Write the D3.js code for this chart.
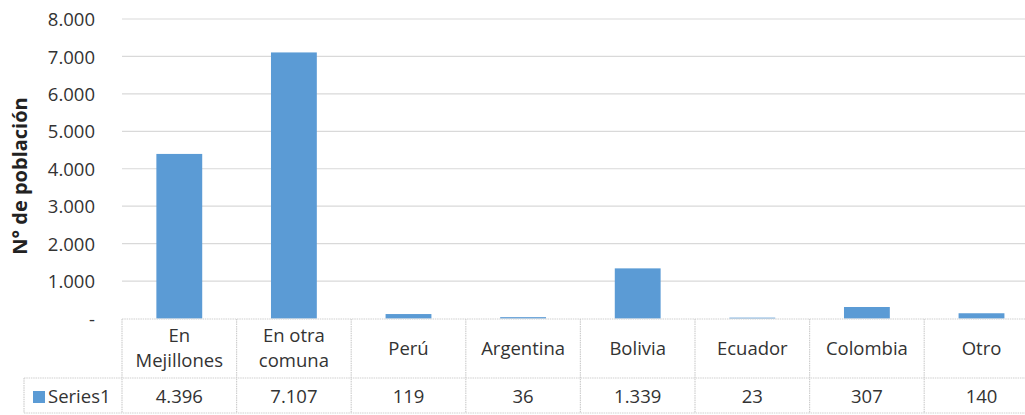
<!DOCTYPE html>
<html><head><meta charset="utf-8">
<script src="https://cdn.jsdelivr.net/npm/d3@7"></script>
<style>html,body{margin:0;padding:0;background:#fff;overflow:hidden}</style>
</head><body>
<svg id="c" width="1025" height="415"></svg>
<script>
const categories = [["En","Mejillones"],["En otra","comuna"],["Perú"],["Argentina"],["Bolivia"],["Ecuador"],["Colombia"],["Otro"]];
const seriesName = "Series1";
const values = [4396, 7107, 119, 36, 1339, 23, 307, 140];
const yTicks = [0,1000,2000,3000,4000,5000,6000,7000,8000];
const yTitle = "N° de población";

const svg = d3.select("#c");
const font = "'Open Sans', sans-serif";
const textColor = "#333333";
const fs = 18.5;
const loc = d3.formatLocale({decimal:",", thousands:".", grouping:[3], currency:["",""]});
const fmt = loc.format(",d");
const keys = categories.map(c => c.join(" "));

const left = 122, colW = 114.6, right = left + colW*8;
const x = d3.scaleBand().domain(keys).range([left, right]).paddingInner(0.6).paddingOuter(0.3);
const xc = d3.scaleBand().domain(keys).range([left, right]).padding(0);
const y = d3.scaleLinear().domain([0, 8000]).range([318.5, 19]);

// gridlines
svg.append("g").selectAll("line").data(yTicks.slice(1)).join("line")
  .attr("x1", left).attr("x2", 1025)
  .attr("y1", d => y(d)).attr("y2", d => y(d))
  .attr("stroke", "#d9d9d9").attr("stroke-width", 1.2);

// y axis labels
const yAxis = d3.axisLeft(y).tickValues(yTicks).tickSize(0).tickPadding(0)
  .tickFormat(d => d === 0 ? "-" : fmt(d));
const ga = svg.append("g").attr("transform", "translate(95,0)").call(yAxis);
ga.select(".domain").remove();
ga.selectAll("text").attr("font-family", font).attr("font-size", fs).attr("fill", textColor).attr("dy", "0.36em");

// bars
svg.append("g").selectAll("rect").data(values).join("rect")
  .attr("x", (d,i) => x(keys[i])).attr("width", x.bandwidth())
  .attr("y", d => y(d)).attr("height", d => y(0) - y(d))
  .attr("fill", "#5b9bd5");

// y title
svg.append("text").attr("transform", "translate(27,176) rotate(-90)")
  .attr("text-anchor", "middle").attr("font-family", font).attr("font-weight", "bold")
  .attr("font-size", 20).attr("fill", "#222").text(yTitle);

// data table
const rowTop = 319, rowMid = 378, rowBot = 413, legLeft = 24;
const tb = svg.append("g").attr("stroke", "#cfcfcf").attr("stroke-width", 1.2).attr("stroke-dasharray", "1.5,0.8");
tb.append("line").attr("x1", left).attr("x2", 1025).attr("y1", rowTop).attr("y2", rowTop);
tb.append("line").attr("x1", legLeft).attr("x2", 1025).attr("y1", rowMid).attr("y2", rowMid);
tb.append("line").attr("x1", legLeft).attr("x2", 1025).attr("y1", rowBot).attr("y2", rowBot);
tb.append("line").attr("x1", legLeft).attr("x2", legLeft).attr("y1", rowMid).attr("y2", rowBot);
tb.selectAll(".v").data(keys).join("line")
  .attr("x1", d => xc(d)).attr("x2", d => xc(d)).attr("y1", rowTop).attr("y2", rowBot);

// category labels
const cl = svg.append("g").selectAll("text").data(categories).join("text")
  .attr("text-anchor", "middle").attr("font-family", font).attr("font-size", fs).attr("fill", textColor)
  .attr("x", (d,i) => xc(keys[i]) + xc.bandwidth()/2)
  .attr("y", d => d.length === 2 ? 342 : 355);
cl.each(function(d){
  const t = d3.select(this);
  d.forEach((line, j) => t.append("tspan").attr("x", t.attr("x")).attr("dy", j === 0 ? 0 : 25).text(line));
});

// values row
svg.append("g").selectAll("text").data(values).join("text")
  .attr("text-anchor", "middle").attr("font-family", font).attr("font-size", fs).attr("fill", textColor)
  .attr("x", (d,i) => xc(keys[i]) + xc.bandwidth()/2).attr("y", 403).text(d => fmt(d));

// legend
svg.append("rect").attr("x", 33).attr("y", 391).attr("width", 12).attr("height", 12).attr("fill", "#5b9bd5");
svg.append("text").attr("x", 48).attr("y", 403).attr("font-family", font).attr("font-size", fs)
  .attr("fill", textColor).text(seriesName);
</script>
</body></html>
